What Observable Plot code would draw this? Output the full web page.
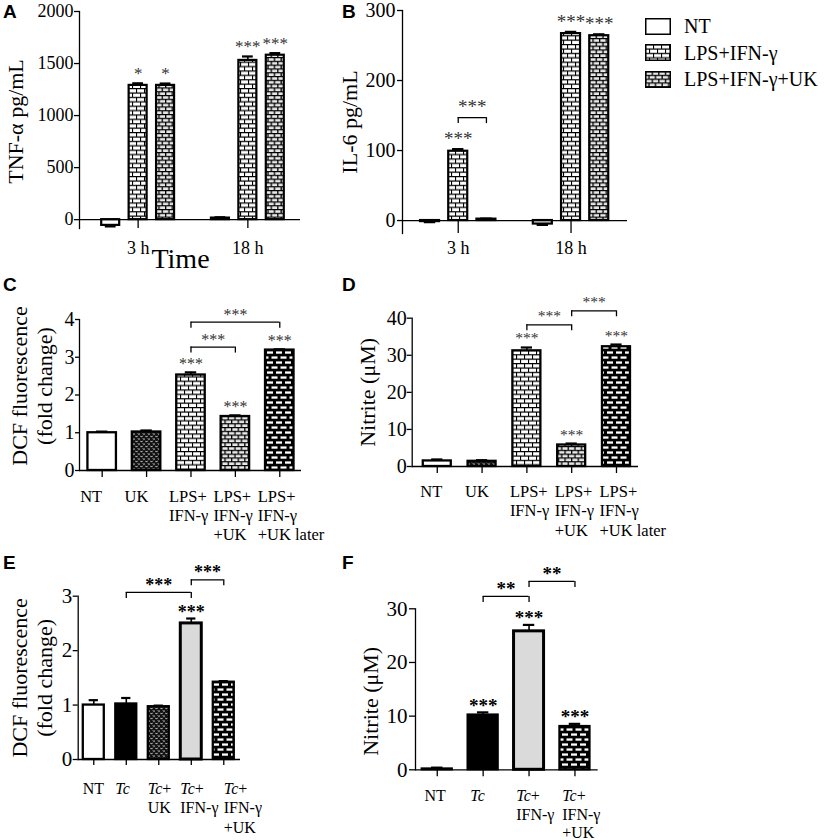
<!DOCTYPE html>
<html>
<head>
<meta charset="utf-8">
<script src="https://cdn.jsdelivr.net/npm/d3@7"></script>
<script src="https://cdn.jsdelivr.net/npm/@observablehq/plot@0.6"></script>
<style>
  html, body { margin: 0; padding: 0; background: #fff; }
  #fig { position: relative; width: 826px; height: 840px; overflow: hidden; background: #fff; color: #000;
         font-family: "Liberation Serif", "Times New Roman", serif; }
  #fig svg text, #fig svg tspan { font-family: "Liberation Serif", "Times New Roman", serif; font-variant-numeric: normal; }
  .cell { position: absolute; }
  .cell svg { overflow: visible; display: block; }
  .letter { position: absolute; font-family: "Liberation Sans", Arial, sans-serif; font-weight: bold; font-size: 19px; line-height: 1; }
  #legend { position: absolute; left: 645px; top: 13px; font-size: 20px; line-height: 1; }
  #legend .row { display: flex; align-items: center; height: 26.6px; white-space: nowrap; }
  #legend svg { margin-right: 13px; display: block; }
</style>
</head>
<body>
<svg width="0" height="0" style="position:absolute" aria-hidden="true">
  <defs>
    <pattern id="brickL" patternUnits="userSpaceOnUse" width="8" height="8.8">
      <rect width="8" height="8.8" fill="#fff"/>
      <path d="M0 0.55H8M0 4.95H8M0.55 0.55V4.95M4.55 4.95V8.8" stroke="#000" stroke-width="1.1" fill="none"/>
    </pattern>
    <pattern id="brickM" patternUnits="userSpaceOnUse" width="6.6" height="7.6">
      <rect width="6.6" height="7.6" fill="#e8e8e8"/>
      <path d="M0 0.65H6.6M0 4.45H6.6M0.65 0.65V4.45M3.95 4.45V7.6" stroke="#000" stroke-width="1.3" fill="none"/>
    </pattern>
    <pattern id="brickD" patternUnits="userSpaceOnUse" width="9" height="10">
      <rect width="9" height="10" fill="#000"/>
      <rect x="1.5" y="1.4" width="6" height="2.3" fill="#fff"/>
      <rect x="-3" y="6.4" width="6" height="2.3" fill="#fff"/>
      <rect x="6" y="6.4" width="6" height="2.3" fill="#fff"/>
    </pattern>
    <pattern id="weave" patternUnits="userSpaceOnUse" width="5" height="5">
      <rect width="5" height="5" fill="#111"/>
      <path d="M0.4 0.8L1.5 2.1L2.6 0.8M2.9 3.3L4 4.6L5.1 3.3" stroke="#fff" stroke-width="0.8" fill="none"/>
    </pattern>
  </defs>
</svg>
<div id="fig"></div>
<script>
// ================= DATA =================
// Panels A and B: grouped by time point
const timeGroups   = ["3 h", "18 h"];
const abTreatments = ["NT", "LPS+IFN-γ", "LPS+IFN-γ+UK"];

// Panel A: TNF-α pg/mL (order: 3 h NT, LPS, LPS+UK, 18 h NT, LPS, LPS+UK)
const aValues  = [-55, 1290, 1290, 15, 1530, 1580];
const aErrors  = [10, 20, 18, 8, 38, 20];
const aSig     = ["", "*", "*", "", "***", "***"];
const aYTicks  = [0, 500, 1000, 1500, 2000];
const aYDomain = [-85, 2000];

// Panel B: IL-6 pg/mL
const bValues  = [-1.5, 99, 2, -5, 267, 264];
const bErrors  = [0.8, 3, 0.8, 1.2, 2.5, 2];
const bSig     = ["", "***", "", "", "***", "***"];
const bYTicks  = [0, 100, 200, 300];
const bYDomain = [-18.5, 300];
const bBrackets = [{group: "3 h", from: "LPS+IFN-γ", to: "LPS+IFN-γ+UK", level: 147, label: "***"}];

// Panels C and D
const cdCategories = ["NT", "UK", "LPS+\nIFN-γ", "LPS+\nIFN-γ\n+UK", "LPS+\nIFN-γ\n+UK later"];
const cValues  = [1.0, 1.02, 2.53, 1.43, 3.19];
const cErrors  = [0.03, 0.04, 0.07, 0.03, 0.02];
const cSig     = ["", "", "***", "***", "***"];
const cYTicks  = [0, 1, 2, 3, 4];
const cBrackets = [{from: 2, to: 3, level: 3.27, label: "***"}, {from: 2, to: 4, level: 3.93, label: "***"}];

const dValues  = [1.5, 1.4, 31.2, 5.8, 32.3];
const dErrors  = [0.4, 0.3, 0.9, 0.4, 0.6];
const dSig     = ["", "", "***", "***", "***"];
const dYTicks  = [0, 10, 20, 30, 40];
const dBrackets = [{from: 2, to: 3, level: 38.2, label: "***"}, {from: 3, to: 4, level: 42.0, label: "***"}];

// Panel E
const eCategories = ["NT", "Tc", "Tc+\nUK", "Tc+\nIFN-γ", "Tc+\nIFN-γ\n+UK"];
const eValues  = [1.0, 1.02, 0.97, 2.5, 1.42];
const eErrors  = [0.09, 0.11, 0.02, 0.09, 0.02];
const eSig     = ["", "", "", "***", ""];
const eYTicks  = [0, 1, 2, 3];
const eBrackets = [{from: 1, to: 3, level: 3.07, label: "***"}, {from: 3, to: 4, level: 3.30, label: "***"}];

// Panel F
const fCategories = ["NT", "Tc", "Tc+\nIFN-γ", "Tc+\nIFN-γ\n+UK"];
const fValues  = [0.15, 10.2, 25.8, 8.06];
const fErrors  = [0.25, 0.5, 1.2, 0.5];
const fSig     = ["", "***", "***", "***"];
const fYTicks  = [0, 10, 20, 30];
const fBrackets = [{from: 1, to: 2, level: 32.3, label: "**"}, {from: 2, to: 3, level: 35.1, label: "**"}];

// ================= STYLES =================
const SERIF = '"Liberation Serif", "Times New Roman", serif';
const FILL = {
  "NT": "#fff", "UK": "url(#weave)",
  "LPS+IFN-γ": "url(#brickL)", "LPS+IFN-γ+UK": "url(#brickM)",
  "LPS+\nIFN-γ": "url(#brickL)", "LPS+\nIFN-γ\n+UK": "url(#brickM)", "LPS+\nIFN-γ\n+UK later": "url(#brickD)",
  "Tc": "#000", "Tc+\nUK": "url(#weave)", "Tc+\nIFN-γ": "#dadada", "Tc+\nIFN-γ\n+UK": "url(#brickD)"
};
const THICK = new Set(["Tc+\nIFN-γ"]);

// ================= BUILD =================
const fig = document.getElementById("fig");

function groupedRows(values, errors, sig) {
  const rows = [];
  timeGroups.forEach((g, gi) => abTreatments.forEach((t, ti) => {
    const i = gi * abTreatments.length + ti;
    rows.push({key: g + "|" + t, value: values[i], err: errors[i], sig: sig[i], fill: FILL[t], sw: 2.2});
  }));
  return rows;
}
const abDomain = timeGroups.flatMap((g, gi) => [...(gi ? ["gap"] : []), ...abTreatments.map(t => g + "|" + t)]);
const abTickKeys = timeGroups.map(g => g + "|" + abTreatments[1]);

function simpleRows(cats, values, errors, sig) {
  return cats.map((c, i) => ({key: c, value: values[i], err: errors[i], sig: sig[i], fill: FILL[c], sw: THICK.has(c) ? 3 : 2.3}));
}
function catBrackets(cats, list) {
  return list.map(b => ({from: cats[b.from], to: cats[b.to], level: b.level, label: b.label}));
}

function italicizeTc(svg) {
  d3.select(svg).selectAll("text, tspan").each(function () {
    if (this.childElementCount === 0 && this.textContent.startsWith("Tc")) {
      const rest = this.textContent.slice(2);
      this.textContent = "";
      d3.select(this).append("tspan").attr("font-style", "italic").text("Tc");
      if (rest) d3.select(this).append("tspan").text(rest);
    }
  });
}

function drawPanel(p) {
  const {cell, frame} = p;
  const band = d3.scaleBand().domain(p.domain).range([frame.x0, frame.x1])
    .paddingInner(p.pad[0]).paddingOuter(p.pad[1]).align(p.pad[2]);
  const bw = band.bandwidth(), step = band.step();
  const tip = d => d.value + (d.value < 0 ? -d.err : d.err);
  const brackets = (p.brackets || []).map(b => ({...b, span: p.domain.indexOf(b.to) - p.domain.indexOf(b.from)}));
  const ends = brackets.flatMap(b => [{k: b.from, level: b.level}, {k: b.to, level: b.level}]);
  const AX = 1.3;
  const sig = p.sig;
  const marks = [
    Plot.barY(p.rows, {x: "key", y: "value", fill: "fill", stroke: "#000", strokeWidth: "sw"}),
    Plot.ruleX(p.rows, {x: "key", y1: "value", y2: tip, stroke: "#000", strokeWidth: 1.6}),
    Plot.tickY(p.rows, {x: "key", y: tip, stroke: "#000", strokeWidth: 2.2, insetLeft: bw * p.cap, insetRight: bw * p.cap}),
    Plot.frame({anchor: "left", stroke: "#000", strokeWidth: AX}),
    Plot.ruleY([0], {stroke: "#000", strokeWidth: AX}),
    Plot.axisY({ticks: p.yTicks, tickFormat: d => String(d), tickSize: p.yTick[0], tickPadding: p.yTick[1],
                fontSize: p.yTick[2], fontFamily: SERIF, strokeWidth: AX, label: null}),
    Plot.text(p.rows.filter(d => d.sig), {x: "key", y: tip, text: "sig", lineAnchor: "bottom", dy: sig.dy,
                fontSize: sig.size, fill: sig.color, fontWeight: sig.weight || "normal"}),
    Plot.ruleY(brackets, {x1: "from", x2: "to", y: "level", insetLeft: bw / 2, insetRight: bw / 2, stroke: "#000", strokeWidth: AX}),
    Plot.ruleX(ends, {x: "k", y1: "level", y2: "level", insetBottom: -6, stroke: "#000", strokeWidth: AX}),
    ...brackets.map(b => Plot.text([b], {x: "from", y: "level", text: "label", dx: b.span * step / 2, dy: p.br.dy,
                lineAnchor: "bottom", fontSize: sig.size, fill: sig.color, fontWeight: sig.weight || "normal"})),
    Plot.text([p.yLabel], {frameAnchor: "left", text: d => d, rotate: -90, dx: p.yLab.dx, dy: p.yLab.dy,
                fontSize: p.yLab.size, lineHeight: p.yLab.lh || 1, textAnchor: "middle", lineAnchor: "middle"})
  ];
  if (p.groupTicks) {
    marks.push(
      Plot.ruleX(p.groupTicks, {x: d => d, y1: 0, y2: p.yDomain[0], stroke: "#000", strokeWidth: AX}),
      Plot.axisX({ticks: p.groupTicks, tickFormat: k => k.split("|")[0], tickSize: 0, tickPadding: p.xTick[1],
                  fontSize: p.xTick[2], fontFamily: SERIF, label: null})
    );
  } else {
    marks.push(Plot.axisX({ticks: p.domain, tickSize: p.xTick[0], fill: "none", stroke: "#000", strokeWidth: AX, label: null}));
    const groups = p.labelGroups || [{idx: p.domain.map((_, i) => i), dx: p.xDx}];
    groups.forEach(g => marks.push(
      Plot.axisX({ticks: g.idx.map(i => p.domain[i]), tickFormat: d => d, tickSize: 0, tickPadding: p.xTick[0] + p.xTick[1],
                  fontSize: p.xTick[2], fontFamily: SERIF, lineHeight: p.xLine, textAnchor: "start", dx: g.dx, label: null})
    ));
  }
  if (p.xTitle) {
    marks.push(Plot.text([p.xTitle], {frameAnchor: "bottom", text: d => d, dx: p.xTitlePos[0], dy: p.xTitlePos[1],
                lineAnchor: "bottom", fontSize: p.xTitlePos[2]}));
  }
  const svg = Plot.plot({
    width: cell.width, height: cell.height,
    marginLeft: frame.x0 - cell.left, marginRight: cell.left + cell.width - frame.x1,
    marginTop: frame.y0 - cell.top, marginBottom: cell.top + cell.height - frame.y1,
    x: {type: "band", domain: p.domain, paddingInner: p.pad[0], paddingOuter: p.pad[1], align: p.pad[2], round: false, label: null},
    y: {domain: p.yDomain, label: null},
    color: {type: "identity"},
    style: {fontFamily: SERIF, fontSize: p.yTick[2] + "px", color: "#000", background: "transparent", overflow: "visible"},
    marks
  });
  if (p.italicTc) italicizeTc(svg);
  const div = document.createElement("div");
  div.className = "cell";
  div.style.left = cell.left + "px";
  div.style.top = cell.top + "px";
  div.style.width = cell.width + "px";
  div.style.height = cell.height + "px";
  div.appendChild(svg);
  fig.appendChild(div);
}

// Panel A
drawPanel({
  cell: {left: 0, top: 0, width: 335, height: 275},
  frame: {x0: 79, x1: 300, y0: 11, y1: 228},
  domain: abDomain, rows: groupedRows(aValues, aErrors, aSig),
  yDomain: aYDomain, yTicks: aYTicks,
  pad: [0.344, 0.70, 0.578], cap: 0.2,
  yTick: [5, 1, 18], groupTicks: abTickKeys, xTick: [0, 12.5, 18],
  sig: {size: 17, dy: -4.5, color: "#333"}, br: {dy: -4},
  yLabel: "TNF-α pg/mL", yLab: {dx: -63.7, dy: 1.5, size: 22},
  xTitle: "Time", xTitlePos: [-9.5, 39, 28]
});

// Panel B
drawPanel({
  cell: {left: 335, top: 0, width: 300, height: 275},
  frame: {x0: 402, x1: 627, y0: 10, y1: 233},
  domain: abDomain, rows: groupedRows(bValues, bErrors, bSig),
  yDomain: bYDomain, yTicks: bYTicks,
  brackets: bBrackets.map(b => ({from: b.group + "|" + b.from, to: b.group + "|" + b.to, level: b.level, label: b.label})),
  pad: [0.326, 0.652, 0.49], cap: 0.2,
  yTick: [5, 2, 20], groupTicks: abTickKeys, xTick: [0, 7.5, 18],
  sig: {size: 19, dy: -4, color: "#333"}, br: {dy: -4.5},
  yLabel: "IL-6 pg/mL", yLab: {dx: -52.3, dy: 0, size: 22}
});

// Panel C
drawPanel({
  cell: {left: 0, top: 275, width: 340, height: 272},
  frame: {x0: 79, x1: 301, y0: 319, y1: 470},
  domain: cdCategories, rows: simpleRows(cdCategories, cValues, cErrors, cSig),
  yDomain: [0, 4], yTicks: cYTicks, brackets: catBrackets(cdCategories, cBrackets),
  pad: [0.358, 0.179, 0.53], cap: 0.3,
  yTick: [4, 1, 20], xTick: [7, 11.3, 16.5], xLine: 1.14, xDx: -22,
  sig: {size: 16, dy: -3, color: "#333"}, br: {dy: -2},
  yLabel: "DCF fluorescence\n(fold change)", yLab: {dx: -48.3, dy: -9, size: 22, lh: 1.16}
});

// Panel D
drawPanel({
  cell: {left: 340, top: 275, width: 330, height: 272},
  frame: {x0: 411.7, x1: 638, y0: 317.7, y1: 466},
  domain: cdCategories, rows: simpleRows(cdCategories, dValues, dErrors, dSig),
  yDomain: [0, 40], yTicks: dYTicks, brackets: catBrackets(cdCategories, dBrackets),
  pad: [0.375, 0.213, 0.58], cap: 0.3,
  yTick: [5, 0.5, 20], xTick: [7, 9.3, 16.5], xLine: 1.18, xDx: -17,
  sig: {size: 15.5, dy: -4, color: "#333"}, br: {dy: -3.5},
  yLabel: "Nitrite (μM)", yLab: {dx: -44.7, dy: 0, size: 22}
});

// Panel E
drawPanel({
  cell: {left: 0, top: 547, width: 340, height: 293},
  frame: {x0: 77.7, x1: 240, y0: 595.7, y1: 759},
  domain: eCategories, rows: simpleRows(eCategories, eValues, eErrors, eSig),
  yDomain: [0, 3], yTicks: eYTicks, brackets: catBrackets(eCategories, eBrackets),
  pad: [0.354, 0.174, 0.45], cap: 0.28,
  yTick: [5, 1, 21], xTick: [6, 14.3, 16], xLine: 1.22,
  labelGroups: [{idx: [0, 1, 2, 3], dx: -11}, {idx: [4], dx: 0}],
  sig: {size: 18, dy: -1, color: "#000", weight: "bold"}, br: {dy: -1.5},
  yLabel: "DCF fluorescence\n(fold change)", yLab: {dx: -47, dy: 0, size: 22, lh: 1.16},
  italicTc: true
});

// Panel F
drawPanel({
  cell: {left: 340, top: 547, width: 330, height: 293},
  frame: {x0: 415, x1: 597.7, y0: 608.3, y1: 769.3},
  domain: fCategories, rows: simpleRows(fCategories, fValues, fErrors, fSig),
  yDomain: [0, 30], yTicks: fYTicks, brackets: catBrackets(fCategories, fBrackets),
  pad: [0.346, 0.163, 0.45], cap: 0.31,
  yTick: [6, 2, 21], xTick: [7, 11.6, 16], xLine: 1.15, xDx: -12.8,
  sig: {size: 19, dy: -0.5, color: "#000", weight: "bold"}, br: {dy: -1.5},
  yLabel: "Nitrite (μM)", yLab: {dx: -45, dy: 12, size: 22},
  italicTc: true
});

// Panel letters
[["A", 3, 2], ["B", 342, 2], ["C", 3, 274.8], ["D", 342, 274.8], ["E", 3, 552.8], ["F", 342, 552.8]].forEach(([t, x, y]) => {
  const el = document.createElement("div");
  el.className = "letter";
  el.style.left = x + "px";
  el.style.top = y + "px";
  el.textContent = t;
  fig.appendChild(el);
});

// Legend
const legend = document.createElement("div");
legend.id = "legend";
abTreatments.forEach(t => {
  const row = document.createElement("div");
  row.className = "row";
  row.innerHTML = `<svg width="26" height="17"><rect x="0.75" y="0.75" width="24.5" height="15.5" fill="${FILL[t]}" stroke="#000" stroke-width="1.5"/></svg>`;
  const span = document.createElement("span");
  span.textContent = t;
  row.appendChild(span);
  legend.appendChild(row);
});
fig.appendChild(legend);
</script>
</body>
</html>
